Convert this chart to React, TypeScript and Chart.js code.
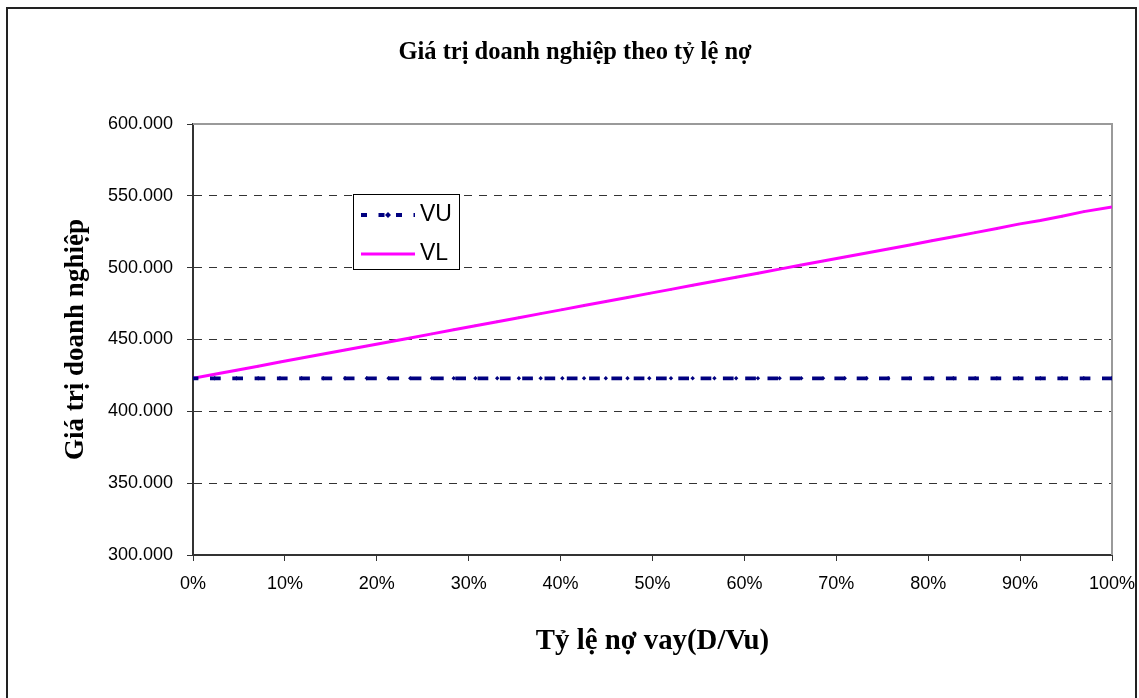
import React, { useEffect, useRef } from "react";
import { Chart, registerables } from "chart.js";

Chart.register(...registerables);

// Debt ratio D/Vu, in percent
const debtRatio = [
  0, 2.36, 4.73, 7.09, 9.46, 11.82, 14.18, 16.55, 18.91, 21.28, 23.64, 26.0, 28.37, 30.73,
  33.1, 35.46, 37.83, 40.19, 42.55, 44.92, 47.28, 49.65, 52.01, 54.37, 56.74, 59.1, 61.47,
  63.83, 66.19, 68.56, 70.92, 73.29, 75.65, 78.01, 80.38, 82.74, 85.11, 87.47, 89.83, 92.2,
  94.56, 96.93, 100,
];

// Value of the unlevered firm
const valueVU = [
  423000, 423000, 423000, 423000, 423000, 423000, 423000, 423000, 423000, 423000, 423000,
  423000, 423000, 423000, 423000, 423000, 423000, 423000, 423000, 423000, 423000, 423000,
  423000, 423000, 423000, 423000, 423000, 423000, 423000, 423000, 423000, 423000, 423000,
  423000, 423000, 423000, 423000, 423000, 423000, 423000, 423000, 423000, 423000,
];

// Value of the levered firm
const valueVL = [
  423000, 425800, 428600, 431400, 434300, 437100, 439900, 442700, 445500, 448300, 451100,
  453900, 456800, 459600, 462400, 465200, 468000, 470800, 473600, 476500, 479300, 482100,
  484900, 487700, 490500, 493300, 496100, 499000, 501800, 504600, 507400, 510200, 513000,
  515800, 518700, 521500, 524400, 527200, 530300, 532800, 535800, 539000, 542200,
];

const xTickLabels = ["0%", "10%", "20%", "30%", "40%", "50%", "60%", "70%", "80%", "90%", "100%"];
const yTickLabels = ["300.000", "350.000", "400.000", "450.000", "500.000", "550.000", "600.000"];

const chartTitle = "Giá trị doanh nghiệp theo tỷ lệ nợ";
const xTitle = "Tỷ lệ nợ vay(D/Vu)";
const yTitle = "Giá trị doanh nghiệp";

const SERIF = '"Liberation Serif", "Times New Roman", serif';
const SANS = '"Liberation Sans", Arial, sans-serif';

// Outer frame of the chart object
const framePlugin = {
  id: "frame",
  beforeDraw(chart: any) {
    const { ctx } = chart;
    ctx.save();
    ctx.fillStyle = "#ffffff";
    ctx.fillRect(0, 0, chart.width, chart.height);
    ctx.strokeStyle = "#222222";
    ctx.lineWidth = 2;
    ctx.strokeRect(7, 8, 1129, 800);
    ctx.restore();
  },
};

// Grey top and right edges of the plot area
const plotEdgePlugin = {
  id: "plotEdge",
  beforeDatasetsDraw(chart: any) {
    const { ctx, chartArea: a } = chart;
    ctx.save();
    ctx.strokeStyle = "#9a9a9a";
    ctx.lineWidth = 2;
    ctx.beginPath();
    ctx.moveTo(a.left, a.top);
    ctx.lineTo(a.right, a.top);
    ctx.lineTo(a.right, a.bottom);
    ctx.stroke();
    ctx.restore();
  },
};

// Boxed legend inside the plot area
const boxLegendPlugin = {
  id: "boxLegend",
  afterDraw(chart: any) {
    const { ctx } = chart;
    const ds = chart.data.datasets;
    const bx = 353, by = 194, bw = 106, bh = 75;
    ctx.save();
    ctx.fillStyle = "#ffffff";
    ctx.fillRect(bx, by, bw, bh);
    ctx.strokeStyle = "#000000";
    ctx.lineWidth = 1;
    ctx.strokeRect(bx + 0.5, by + 0.5, bw, bh);

    const rows = [215, 254];
    ds.forEach((d: any, i: number) => {
      const y = rows[i];
      ctx.save();
      ctx.strokeStyle = d.borderColor;
      ctx.lineWidth = d.borderWidth;
      if (d.borderDash && d.borderDash.length) ctx.setLineDash([6, 11.5]);
      ctx.beginPath();
      ctx.moveTo(361, y);
      ctx.lineTo(415, y);
      ctx.stroke();
      ctx.setLineDash([]);
      if (i === 0) {
        ctx.fillStyle = d.pointBackgroundColor;
        ctx.beginPath();
        ctx.moveTo(388, y - 3);
        ctx.lineTo(391, y);
        ctx.lineTo(388, y + 3);
        ctx.lineTo(385, y);
        ctx.closePath();
        ctx.fill();
      }
      ctx.restore();
      ctx.fillStyle = "#000000";
      ctx.font = `23px ${SANS}`;
      ctx.textAlign = "left";
      ctx.textBaseline = "middle";
      ctx.fillText(d.label, 420, y);
    });
    ctx.restore();
  },
};

export default function App() {
  const canvasRef = useRef<HTMLCanvasElement | null>(null);

  useEffect(() => {
    if (!canvasRef.current) return;
    const chart = new Chart(canvasRef.current, {
      type: "line",
      data: {
        datasets: [
          {
            label: "VU",
            data: debtRatio.map((x, i) => ({ x, y: valueVU[i] })),
            borderColor: "#000080",
            backgroundColor: "#000080",
            borderWidth: 3.8,
            borderDash: [10.7, 11.6],
            borderDashOffset: 5.3,
            pointStyle: "rectRot",
            pointRadius: 2.2,
            pointBackgroundColor: "#000080",
            pointBorderWidth: 0,
            tension: 0,
          },
          {
            label: "VL",
            data: debtRatio.map((x, i) => ({ x, y: valueVL[i] })),
            borderColor: "#FF00FF",
            backgroundColor: "#FF00FF",
            borderWidth: 3,
            pointStyle: "rect",
            pointRadius: 1.4,
            pointBackgroundColor: "#e020e0",
            pointBorderWidth: 0,
            tension: 0,
          },
        ],
      },
      options: {
        responsive: false,
        animation: false,
        events: [],
        layout: { padding: { left: 38, right: 27, top: 0, bottom: 0 } },
        plugins: {
          legend: { display: false },
          tooltip: { enabled: false },
          title: {
            display: true,
            text: chartTitle,
            color: "#000000",
            font: { family: SERIF, size: 24.5, weight: "bold", lineHeight: 1.2 },
            padding: { top: 38, bottom: 56.6 },
          },
        },
        scales: {
          x: {
            type: "linear",
            min: 0,
            max: 100,
            afterFit(scale: any) {
              scale.height = 143;
              scale.paddingLeft = 0;
              scale.paddingRight = 0;
            },
            ticks: {
              stepSize: 10,
              color: "#000000",
              padding: 12,
              maxRotation: 0,
              font: { family: SANS, size: 18 },
              callback: (_v: any, i: number) => xTickLabels[i],
            },
            grid: {
              drawOnChartArea: false,
              drawTicks: true,
              tickLength: 6,
              tickColor: "#333333",
              tickWidth: 1,
            },
            border: { display: true, color: "#333333", width: 2 },
            title: {
              display: true,
              text: xTitle,
              color: "#000000",
              font: { family: SERIF, size: 28.8, weight: "bold", lineHeight: 1.2 },
              padding: { top: 0, bottom: 39 },
            },
          },
          y: {
            type: "linear",
            min: 300000,
            max: 600000,
            afterFit(scale: any) {
              scale.width = 155;
              scale.paddingTop = 0;
              scale.paddingBottom = 0;
            },
            ticks: {
              stepSize: 50000,
              color: "#000000",
              padding: 14,
              font: { family: SANS, size: 18 },
              callback: (_v: any, i: number) => yTickLabels[i],
            },
            grid: {
              color: "#333333",
              lineWidth: 1,
              drawTicks: true,
              tickLength: 6,
              tickColor: "#333333",
              tickWidth: 1,
              tickBorderDash: [],
            },
            border: { display: true, color: "#333333", width: 2, dash: [8, 7] },
            title: {
              display: true,
              text: yTitle,
              color: "#000000",
              font: { family: SERIF, size: 27, weight: "bold", lineHeight: 1.2 },
              padding: { top: 21.5, bottom: 0 },
            },
          },
        },
      },
      plugins: [framePlugin, plotEdgePlugin, boxLegendPlugin],
    } as any);
    return () => chart.destroy();
  }, []);

  return (
    <div style={{ position: "fixed", left: 0, top: 0, width: 1139, height: 698 }}>
      <canvas ref={canvasRef} width={1139} height={698} />
    </div>
  );
}
